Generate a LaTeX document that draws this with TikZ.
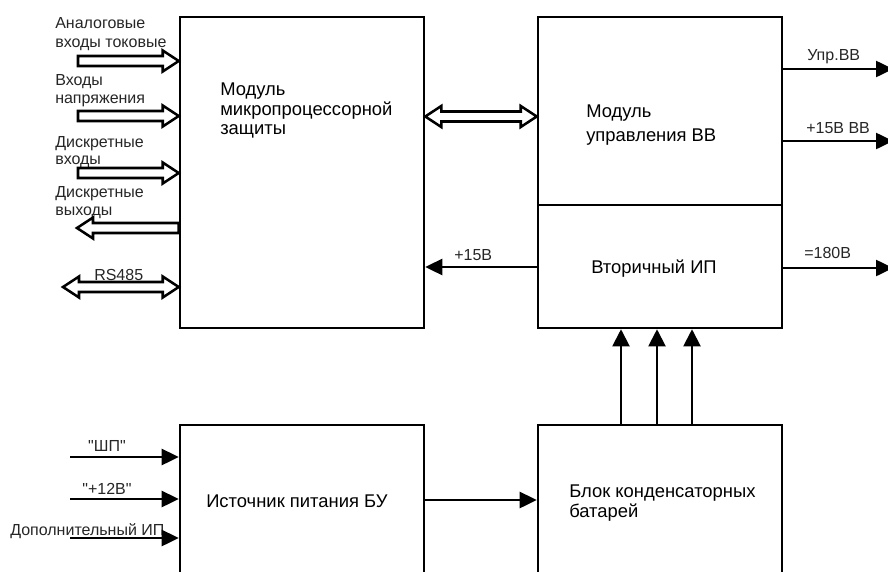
\documentclass[tikz,border=0pt]{standalone}
\usepackage{fontspec}
\setmainfont{Liberation Sans}[Ligatures=TeXOff]
\usetikzlibrary{arrows.meta,calc}
\newcommand\hollowright[2]{% #1 tail, #2 tip (tip on the right)
  \draw[hollow] ($(#1)+(0,-5)$) -- ($(#2)+(-16,-5)$) -- ($(#2)+(-16,-10.5)$) -- (#2)
    -- ($(#2)+(-16,10.5)$) -- ($(#2)+(-16,5)$) -- ($(#1)+(0,5)$) -- cycle;}
\newcommand\hollowleft[2]{% #1 tail (right), #2 tip (left)
  \draw[hollow] ($(#1)+(0,-5)$) -- ($(#2)+(16,-5)$) -- ($(#2)+(16,-10.5)$) -- (#2)
    -- ($(#2)+(16,10.5)$) -- ($(#2)+(16,5)$) -- ($(#1)+(0,5)$) -- cycle;}
\newcommand\hollowboth[2]{% #1 left tip, #2 right tip
  \draw[hollow] (#1) -- ($(#1)+(16,-10.5)$) -- ($(#1)+(16,-5)$) -- ($(#2)+(-16,-5)$)
    -- ($(#2)+(-16,-10.5)$) -- (#2) -- ($(#2)+(-16,10.5)$) -- ($(#2)+(-16,5)$)
    -- ($(#1)+(16,5)$) -- ($(#1)+(16,10.5)$) -- cycle;}
\begin{document}
\begin{tikzpicture}[x=0.75pt,y=-0.75pt,
  box/.style={draw, line width=1.9pt, inner sep=0pt},
  btext/.style={anchor=base west, inner sep=0pt, font=\fontsize{13.8}{16}\selectfont},
  ltext/.style={anchor=base west, inner sep=0pt, font=\fontsize{12}{14}\selectfont, text=black!85},
  sarrow/.style={line width=1.9pt, -{Triangle[length=12.75pt, width=12pt]}},
  varrow/.style={line width=1.5pt, -{Triangle[length=12.75pt, width=12.75pt]}},
  hollow/.style={draw, line width=1.9pt, fill=white, line join=miter}]
\useasboundingbox (0,0) rectangle (888,571);

% boxes
\node[box, minimum width=183pt, minimum height=233.25pt] (mpz) at (302,172.5) {};
\node[box, minimum width=183pt, minimum height=141pt] (muv) at (660,111) {};
\node[box, minimum width=183pt, minimum height=92.25pt] (vip) at (660,266.5) {};
\node[box, minimum width=183pt, minimum height=131.25pt] (ipbu) at (302,512.5) {};
\node[box, minimum width=183pt, minimum height=131.25pt] (bkb) at (660,512.5) {};

% box texts
\node[btext] (t1) at (220,95) {Модуль};
\node[btext] (t2) at (220,115) {микропроцессорной};
\node[btext] (t3) at (220,134) {защиты};
\node[btext] (t4) at (586,117) {Модуль};
\node[btext] (t5) at (586,141) {управления ВВ};
\node[btext] (t6) at (591,273) {Вторичный ИП};
\node[btext] (t7) at (206,507) {Источник питания БУ};
\node[btext] (t8) at (569,497) {Блок конденсаторных};
\node[btext] (t9) at (569,517) {батарей};

% labels
\node[ltext] (l1) at (55,28) {Аналоговые};
\node[ltext] (l2) at (55,47) {входы токовые};
\node[ltext] (l3) at (55,85) {Входы};
\node[ltext] (l4) at (55,103) {напряжения};
\node[ltext] (l5) at (55,147) {Дискретные};
\node[ltext] (l6) at (55,164) {входы};
\node[ltext] (l7) at (55,197) {Дискретные};
\node[ltext] (l8) at (55,215) {выходы};
\node[ltext] (l9) at (94,280) {RS485};
\node[ltext] (r1) at (807,60) {Упр.ВВ};
\node[ltext] (r2) at (806,133) {+15В ВВ};
\node[ltext] (r3) at (804,258) {=180В};
\node[ltext] (r4) at (454,260) {+15В};
\node[ltext, anchor=base] (b1t) at (107,451) {"ШП"};
\node[ltext, anchor=base] (b2t) at (107,494) {"+12В"};
\node[ltext] (b3t) at (10,535) {Дополнительный ИП};

% hollow arrows
\coordinate (a1) at (78,61);  \coordinate (a1e) at (mpz.west |- a1);
\coordinate (a2) at (78,116); \coordinate (a2e) at (mpz.west |- a2);
\coordinate (a3) at (78,173); \coordinate (a3e) at (mpz.west |- a3);
\coordinate (a4) at (77,228); \coordinate (a4s) at (mpz.west |- a4);
\coordinate (rs1) at (63,287); \coordinate (rs2) at (mpz.west |- rs1);
\coordinate (d0) at (0,116.5);
\coordinate (dl) at (mpz.east |- d0); \coordinate (dr) at (muv.west |- d0);
\hollowright{a1}{a1e}
\hollowright{a2}{a2e}
\hollowright{a3}{a3e}
\hollowleft{a4s}{a4}
\hollowboth{rs1}{rs2}
\hollowboth{dl}{dr}

% solid arrows
\coordinate (o1) at (893,69);
\coordinate (o2) at (893,141);
\coordinate (o3) at (893,268);
\draw[sarrow] (muv.east |- o1) -- (o1);
\draw[sarrow] (muv.east |- o2) -- (o2);
\draw[sarrow] (vip.east |- o3) -- (o3);
\coordinate (p15) at (538,267);
\draw[sarrow] (vip.west |- p15) -- (mpz.east |- p15);

\coordinate (v1) at (621,0);
\coordinate (v2) at (657,0);
\coordinate (v3) at (692,0);
\draw[varrow] (bkb.north -| v1) -- (vip.south -| v1);
\draw[varrow] (bkb.north -| v2) -- (vip.south -| v2);
\draw[varrow] (bkb.north -| v3) -- (vip.south -| v3);

\coordinate (b1) at (70,457);
\coordinate (b2) at (70,499);
\coordinate (b3) at (70,538);
\draw[sarrow] (b1) -- (ipbu.west |- b1);
\draw[sarrow] (b2) -- (ipbu.west |- b2);
\draw[sarrow] (b3) -- (ipbu.west |- b3);
\coordinate (m1) at (0,500);
\draw[sarrow] (ipbu.east |- m1) -- (bkb.west |- m1);
\end{tikzpicture}
\end{document}
